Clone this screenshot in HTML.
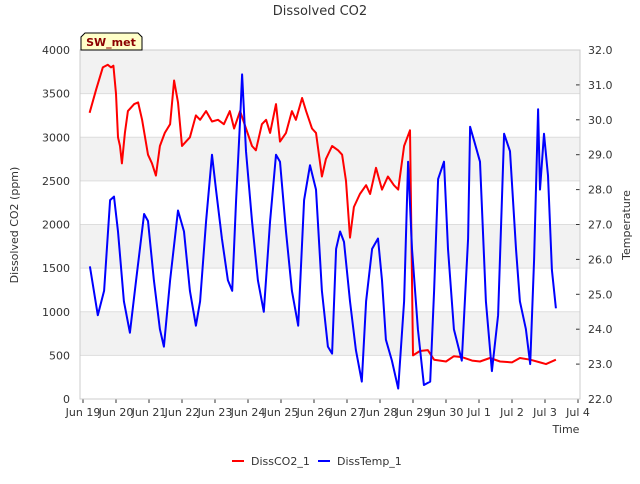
<!DOCTYPE html>
<html><head><meta charset="utf-8"><style>
body{margin:0;background:#fff;font-family:"DejaVu Sans","Liberation Sans",sans-serif}
svg text{font-family:"DejaVu Sans","Liberation Sans",sans-serif}
</style></head><body>
<svg id="c" width="640" height="480" xmlns="http://www.w3.org/2000/svg"></svg>
<script>
const co2T=[0.2,0.4,0.6,0.75,0.85,0.92,1.0,1.06,1.12,1.18,1.27,1.36,1.55,1.67,1.79,1.97,2.09,2.21,2.33,2.48,2.64,2.76,2.88,3.0,3.12,3.24,3.42,3.55,3.73,3.91,4.09,4.27,4.45,4.58,4.76,4.94,5.12,5.24,5.42,5.55,5.67,5.85,5.97,6.15,6.33,6.45,6.64,6.76,6.94,7.06,7.24,7.36,7.55,7.73,7.85,7.97,8.09,8.21,8.39,8.58,8.70,8.88,9.06,9.24,9.42,9.55,9.73,9.91,10.0,10.21,10.45,10.64,11.0,11.24,11.48,11.79,12.03,12.33,12.64,13.0,13.24,13.55,13.85,14.03,14.33];
const co2V=[3280,3550,3800,3830,3800,3820,3500,3000,2900,2700,3050,3300,3380,3400,3200,2800,2700,2560,2900,3050,3150,3650,3400,2900,2950,3000,3250,3200,3300,3180,3200,3150,3300,3100,3300,3100,2900,2850,3150,3200,3050,3380,2950,3050,3300,3200,3450,3300,3100,3050,2550,2750,2900,2850,2800,2500,1850,2200,2350,2450,2350,2650,2400,2550,2450,2400,2900,3080,500,550,560,450,430,490,480,440,430,470,430,420,470,450,420,400,450];
const tmpT=[0.21,0.45,0.64,0.82,0.94,1.06,1.24,1.42,1.61,1.85,1.97,2.15,2.33,2.45,2.64,2.88,3.06,3.24,3.42,3.55,3.73,3.91,4.03,4.21,4.39,4.52,4.64,4.76,4.82,4.94,5.12,5.30,5.48,5.67,5.85,5.97,6.15,6.33,6.52,6.70,6.88,7.06,7.24,7.42,7.55,7.67,7.79,7.91,8.09,8.27,8.45,8.58,8.76,8.94,9.06,9.18,9.36,9.55,9.73,9.85,9.97,10.15,10.33,10.52,10.64,10.76,10.94,11.06,11.24,11.48,11.67,11.73,11.85,12.03,12.21,12.39,12.58,12.76,12.94,13.12,13.24,13.42,13.55,13.67,13.79,13.85,13.97,14.09,14.21,14.33];
const tmpV=[25.8,24.4,25.1,27.7,27.8,26.8,24.8,23.9,25.4,27.3,27.1,25.4,24.0,23.5,25.4,27.4,26.8,25.1,24.1,24.8,27.1,29.0,28.0,26.6,25.4,25.1,27.7,30.0,31.3,29.1,27.1,25.4,24.5,27.1,29.0,28.8,26.8,25.1,24.1,27.7,28.7,28.0,25.1,23.5,23.3,26.3,26.8,26.5,24.8,23.4,22.5,24.8,26.3,26.6,25.4,23.7,23.1,22.3,24.8,28.8,26.3,24.0,22.4,22.5,25.1,28.3,28.8,26.3,24.0,23.1,26.6,29.8,29.4,28.8,24.8,22.8,24.4,29.6,29.1,26.3,24.8,24.0,23.0,26.0,30.3,28.0,29.6,28.4,25.7,24.6];
const xLabels=["Jun 19","Jun 20","Jun 21","Jun 22","Jun 23","Jun 24","Jun 25","Jun 26","Jun 27","Jun 28","Jun 29","Jun 30","Jul 1","Jul 2","Jul 3","Jul 4"];
const yTicks=[0,500,1000,1500,2000,2500,3000,3500,4000];
const y2Ticks=[22,23,24,25,26,27,28,29,30,31,32];
const X0=80,X1=580,Y0=50,Y1=399;
const sx=t=>83+33*t;
const sy=v=>Y1-(v/4000)*(Y1-Y0);
const sy2=v=>Y1-((v-22)/10)*(Y1-Y0);
const svg=document.getElementById('c');
const NS='http://www.w3.org/2000/svg';
function mk(tag,a,txt){const e=document.createElementNS(NS,tag);for(const k in a)e.setAttribute(k,a[k]);if(txt!==undefined)e.textContent=txt;svg.appendChild(e);return e;}
let bg=mk('rect',{x:X0,y:Y0,width:X1-X0,height:Y1-Y0,fill:'#fff',stroke:'#ccc'});


for(let i=0;i<yTicks.length-1;i++){if(i%2===1){let b=mk('rect',{x:X0,y:sy(yTicks[i+1]),width:X1-X0,height:sy(yTicks[i])-sy(yTicks[i+1]),fill:'#f2f2f2'});

}}
yTicks.forEach(v=>{let g=mk('line',{x1:X0,x2:X1,y1:sy(v),y2:sy(v),stroke:'#ddd'});


let t=mk('text',{x:X0-10,y:sy(v)+4,'text-anchor':'end','font-size':11,fill:'#333'},v);

});
y2Ticks.forEach(v=>{let t=mk('text',{x:588,y:sy2(v)+4,'font-size':11,fill:'#333'},v.toFixed(1));


mk('line',{x1:X1-4,x2:X1,y1:sy2(v),y2:sy2(v),stroke:'#333'});});
xLabels.forEach((l,i)=>{let t=mk('text',{x:sx(i),y:416,'text-anchor':'middle','font-size':11,fill:'#333'},l);


mk('line',{x1:sx(i),x2:sx(i),y1:Y1,y2:Y1+4,stroke:'#333'});});
let bd=mk('rect',{x:X0,y:Y0,width:X1-X0,height:Y1-Y0,fill:'none',stroke:'#ccc'});
function line(T,V,f,col,name){let d=T.map((t,i)=>(i?'L':'M')+sx(t).toFixed(1)+','+f(V[i]).toFixed(1)).join('');
let p=mk('path',{d:d,fill:'none',stroke:col,'stroke-width':2,'stroke-linejoin':'round'});

}
line(co2T,co2V,sy,'#ff0000','series-dissco2');
line(tmpT,tmpV,sy2,'#0000ff','series-disstemp');
let ti=mk('text',{x:320,y:15,'text-anchor':'middle','font-size':13,fill:'#333'},'Dissolved CO2');


let yl=mk('text',{x:18,y:225,'text-anchor':'middle','font-size':11,fill:'#333',transform:'rotate(-90 18 225)'},'Dissolved CO2 (ppm)');


let y2l=mk('text',{x:630,y:225,'text-anchor':'middle','font-size':11,fill:'#333',transform:'rotate(-90 630 225)'},'Temperature');


let xl=mk('text',{x:566,y:433,'text-anchor':'middle','font-size':11,fill:'#333'},'Time');


let sb=mk('path',{d:'M81,50 L81,37 L85,33 L138,33 L142,37 L142,50 Z',fill:'#ffffc8',stroke:'#000'});


let st=mk('text',{x:111,y:46,'text-anchor':'middle','font-size':11,'font-weight':'bold',fill:'#8b0000'},'SW_met');


[[232,'#ff0000','DissCO2_1'],[318,'#0000ff','DissTemp_1']].forEach(([x,c,n])=>{
let l=mk('line',{x1:x,x2:x+12,y1:461,y2:461,stroke:c,'stroke-width':2});


let t=mk('text',{x:x+19,y:465,'font-size':11,fill:'#333'},n);

});
</script>
</body></html>
